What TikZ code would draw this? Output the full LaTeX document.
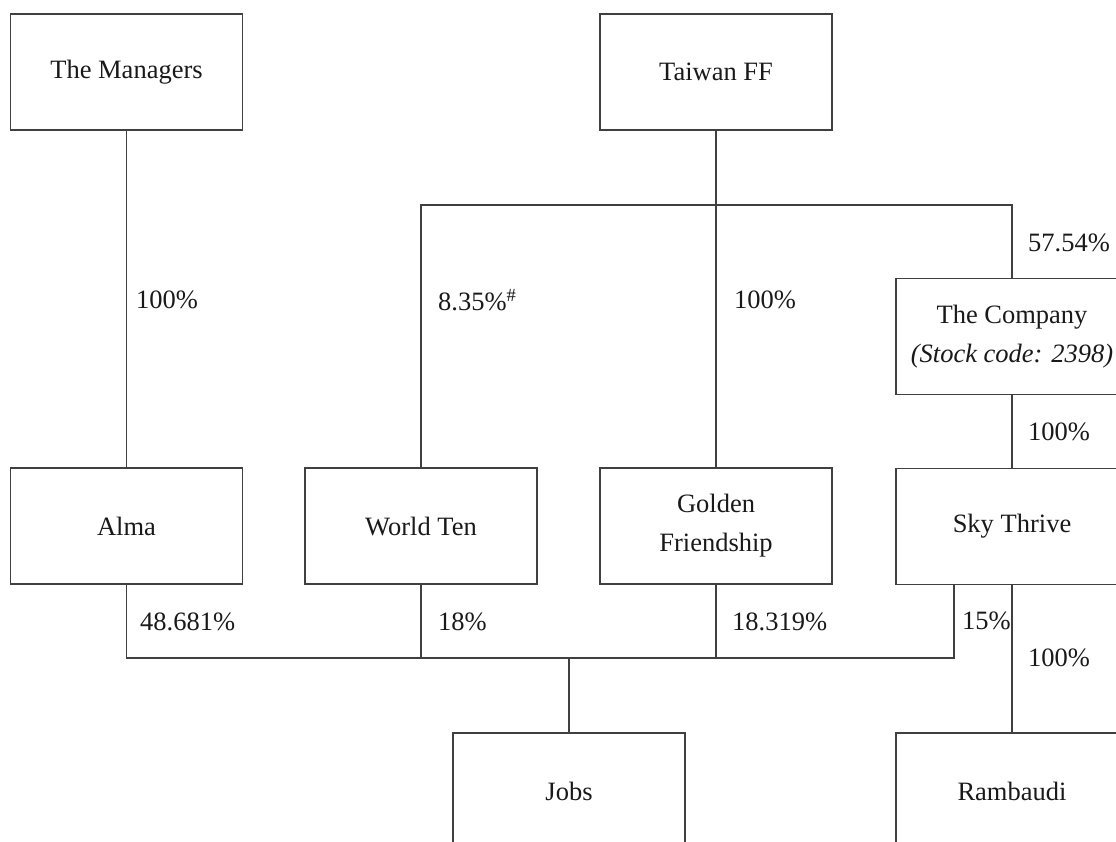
\documentclass[tikz,border=0pt]{standalone}
\usepackage{fontspec}
\setmainfont{Liberation Serif}
\begin{document}
\begin{tikzpicture}[x=1pt,y=-1pt,
  every node/.style={font=\fontsize{26.5}{39}\selectfont, text=black!90},
  box/.style={draw=black!75, line width=1.3pt, minimum width=232pt, minimum height=116pt, inner sep=0pt, align=center},
  pct/.style={anchor=west, inner sep=0pt},
  conn/.style={draw=black!75, line width=1.3pt}]
\useasboundingbox (0,0) rectangle (1116,841);
\clip (0,0) rectangle (1116,841);
% boxes
\node[box] (mgr) at (126.5,72) {The Managers};
\node[box] (tff) at (716,72) {Taiwan FF};
\node[box] (co) at (1012,336.5) {The Company\\\textit{(Stock code: 2398)}};
\node[box] (alma) at (126.5,526) {Alma};
\node[box] (wt) at (421,526) {World Ten};
\node[box] (gf) at (716,526) {Golden\\Friendship};
\node[box] (st) at (1012,526.5) {Sky Thrive};
\node[box] (jobs) at (569,791) {Jobs};
\node[box] (ram) at (1012,791) {Rambaudi};
% junctions
\coordinate (tj) at (716,205);
\coordinate (bj) at (569,658);
\coordinate (s15) at (954,584.5);
% connectors
\draw[conn] (mgr.south) -- (alma.north);
\draw[conn] (tff.south) -- (gf.north);
\draw[conn] (wt.north) -- (wt.north |- tj) -- (co.north |- tj) -- (co.north);
\draw[conn] (co.south) -- (st.north);
\draw[conn] (alma.south) -- (alma.south |- bj) -- (bj -| s15) -- (s15);
\draw[conn] (wt.south) -- (wt.south |- bj);
\draw[conn] (gf.south) -- (gf.south |- bj);
\draw[conn] (jobs.north) -- (bj);
\draw[conn] (st.south) -- (ram.north);
% labels
\node[pct] (l1) at (136,300) {100\%};
\node[pct] (l2) at (438,300) {8.35\%\textsuperscript{\#}};
\node[pct] (l3) at (734,300) {100\%};
\node[pct] (l4) at (1028,243) {57.54\%};
\node[pct] (l5) at (1028,432) {100\%};
\node[pct] (l6) at (140,622) {48.681\%};
\node[pct] (l7) at (438,622) {18\%};
\node[pct] (l8) at (732,622) {18.319\%};
\node[pct] (l9) at (962,621) {15\%};
\node[pct] (l10) at (1028,658) {100\%};
\end{tikzpicture}
\end{document}
